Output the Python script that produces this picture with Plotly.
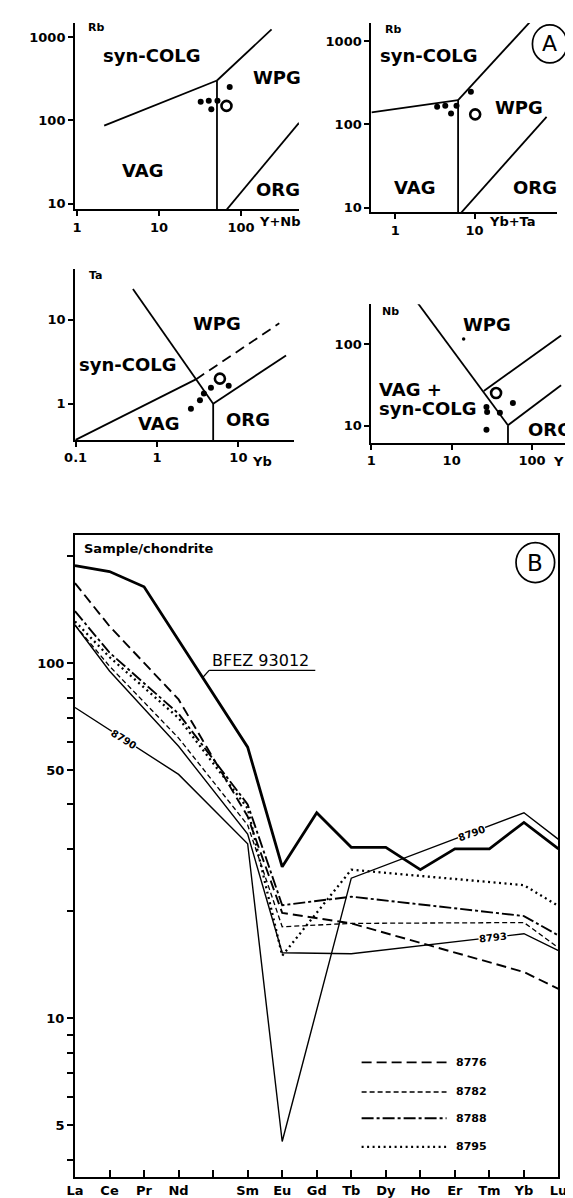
import plotly.graph_objects as go

W, H = 573, 1198
FONT = "DejaVu Sans"

# ---------------- Panel A data ----------------
# A1: Rb vs Y+Nb
a1_dots_x = [32.3, 40.5, 43.5, 51.7, 72.9]
a1_dots_y = [167, 171, 135, 171, 251]
a1_open_x = [66.6]
a1_open_y = [148.6]
a1_colg_vag_x = [2.15, 51]
a1_colg_vag_y = [86, 300]
a1_colg_wpg_x = [51, 236]
a1_colg_wpg_y = [300, 1230]
a1_vag_wpg_x = [51, 51]
a1_vag_wpg_y = [300, 1]
a1_wpg_org_x = [64, 510]
a1_wpg_org_y = [8.0, 93]

# A2: Rb vs Yb+Ta
a2_dots_x = [3.37, 4.27, 5.05, 5.92, 9.0]
a2_dots_y = [163, 167, 135.6, 167, 247]
a2_open_x = [10.2]
a2_open_y = [132]
a2_colg_vag_x = [0.5, 6.2]
a2_colg_vag_y = [139, 196]
a2_colg_wpg_x = [6.2, 53.5]
a2_colg_wpg_y = [196, 1820]
a2_vag_wpg_x = [6.2, 6.2]
a2_vag_wpg_y = [196, 1]
a2_wpg_org_x = [6.3, 81.5]
a2_wpg_org_y = [8.0, 123]

# A3: Ta vs Yb
a3_dots_x = [2.61, 3.37, 3.77, 4.6, 7.6]
a3_dots_y = [0.87, 1.10, 1.32, 1.55, 1.64]
a3_open_x = [5.93]
a3_open_y = [1.99]
a3_colg_vag_x = [0.1, 3.0]
a3_colg_vag_y = [0.37, 1.95]
a3_dashed_x = [3.0, 31.8]
a3_dashed_y = [1.95, 9.1]
a3_wpg_vag_x = [0.506, 4.9]
a3_wpg_vag_y = [23.4, 1.0]
a3_vag_org_x = [4.9, 4.9]
a3_vag_org_y = [1.0, 0.1]
a3_wpg_org_x = [4.9, 38.5]
a3_wpg_org_y = [1.0, 3.77]

# A4: Nb vs Y
a4_dots_x = [27.1, 27.6, 39.8, 57.8, 27.1]
a4_dots_y = [17.0, 14.7, 14.4, 19.0, 8.9]
a4_small_x = [14.1]
a4_small_y = [117]
a4_open_x = [35.7]
a4_open_y = [25.2]
a4_diag_x = [3.8, 50.2]
a4_diag_y = [322, 10.1]
a4_wpg_org_x = [25.1, 229.7]
a4_wpg_org_y = [26.7, 129]
a4_vag_org_x = [50.2, 229.7]
a4_vag_org_y = [10.1, 31.4]
a4_vert_x = [50.2, 50.2]
a4_vert_y = [10.1, 1]

# ---------------- Panel B data: REE / chondrite ----------------
ree_labels = ["La", "Ce", "Pr", "Nd", "", "Sm", "Eu", "Gd", "Tb", "Dy", "Ho", "Er", "Tm", "Yb", "Lu"]
ree_pos = list(range(len(ree_labels)))
bfez_93012 = [188, 181, 164, None, None, 58, 26.7, 37.9, 30.3, 30.3, 26.2, 30, 30, 35.6, 30]
s8776 = [168, 127, None, 79, None, 37, 19.8, None, 18.5, None, None, None, None, 13.5, 12.1]
s8782 = [128, 98, None, 61.5, None, 35, 18.1, None, 18.5, None, None, None, None, 18.6, 15.8]
s8788 = [140, 107, None, 72, None, 40, 20.8, None, 22.0, None, None, None, None, 19.4, 17.1]
s8795 = [131, 104, None, 70, None, 39, 15.0, None, 26.2, None, None, None, None, 23.7, 20.7]
s8790 = [75, None, None, 48.6, None, 31, 4.5, None, 24.8, None, None, None, None, 37.9, 31.9]
s8793 = [128, 95, None, 58.3, None, 33, 15.3, None, 15.2, None, None, None, None, 17.3, 15.5]
b_ticks = [4, 5, 6, 7, 8, 9, 10, 20, 30, 40, 50, 60, 70, 80, 90, 100, 200]
b_ticktext = ["", "5", "", "", "", "", "10", "", "", "", "50", "", "", "", "", "100", ""]


def px(x):
    return x / W


def py(y):
    return 1 - y / H


fig = go.Figure()
BLK = "black"


def add_line(xs, ys, ax, width=1.8, dash=None):
    fig.add_trace(go.Scatter(x=xs, y=ys, mode="lines", xaxis="x" + ax, yaxis="y" + ax,
                             line=dict(color=BLK, width=width, dash=dash),
                             hoverinfo="skip", showlegend=False, connectgaps=True))


def add_pts(xs, ys, ax, size=6):
    fig.add_trace(go.Scatter(x=xs, y=ys, mode="markers", xaxis="x" + ax, yaxis="y" + ax,
                             marker=dict(color=BLK, size=size, opacity=1,
                                         line=dict(color=BLK, width=0)),
                             hoverinfo="skip", showlegend=False))


def add_open(xs, ys, ax):
    fig.add_trace(go.Scatter(x=xs, y=ys, mode="markers", xaxis="x" + ax, yaxis="y" + ax,
                             marker=dict(color=BLK, size=10, symbol="circle-open", opacity=1,
                                         line=dict(color=BLK, width=2.6)),
                             hoverinfo="skip", showlegend=False))


# A1
for xs, ys in [(a1_colg_vag_x, a1_colg_vag_y), (a1_colg_wpg_x, a1_colg_wpg_y),
               (a1_vag_wpg_x, a1_vag_wpg_y), (a1_wpg_org_x, a1_wpg_org_y)]:
    add_line(xs, ys, "")
add_pts(a1_dots_x, a1_dots_y, "")
add_open(a1_open_x, a1_open_y, "")

# A2
for xs, ys in [(a2_colg_vag_x, a2_colg_vag_y), (a2_colg_wpg_x, a2_colg_wpg_y),
               (a2_vag_wpg_x, a2_vag_wpg_y), (a2_wpg_org_x, a2_wpg_org_y)]:
    add_line(xs, ys, "2")
add_pts(a2_dots_x, a2_dots_y, "2")
add_open(a2_open_x, a2_open_y, "2")

# A3
for xs, ys in [(a3_colg_vag_x, a3_colg_vag_y), (a3_wpg_vag_x, a3_wpg_vag_y),
               (a3_vag_org_x, a3_vag_org_y), (a3_wpg_org_x, a3_wpg_org_y)]:
    add_line(xs, ys, "3")
add_line(a3_dashed_x, a3_dashed_y, "3", dash="10px,6px")
add_pts(a3_dots_x, a3_dots_y, "3")
add_open(a3_open_x, a3_open_y, "3")

# A4
for xs, ys in [(a4_diag_x, a4_diag_y), (a4_wpg_org_x, a4_wpg_org_y),
               (a4_vag_org_x, a4_vag_org_y), (a4_vert_x, a4_vert_y)]:
    add_line(xs, ys, "4")
add_pts(a4_dots_x, a4_dots_y, "4")
add_pts(a4_small_x, a4_small_y, "4", size=3.5)
add_open(a4_open_x, a4_open_y, "4")

# B
add_line(ree_pos, bfez_93012, "5", width=2.8)
add_line(ree_pos, s8776, "5", width=1.9, dash="10px,5px")
add_line(ree_pos, s8782, "5", width=1.3, dash="5px,3px")
add_line(ree_pos, s8788, "5", width=1.9, dash="12px,3px,3px,3px")
add_line(ree_pos, s8795, "5", width=2.3, dash="2px,3.5px")
add_line(ree_pos, s8790, "5", width=1.4)
add_line(ree_pos, s8793, "5", width=1.4)

tfont = dict(family=FONT, size=13, color=BLK, weight="bold")


def log_axis(domain, rng, tickvals, ticktext, anchor):
    return dict(type="log", domain=domain, range=rng, anchor=anchor,
                showline=True, linecolor=BLK, linewidth=1.8, mirror=False,
                showgrid=False, zeroline=False, ticks="outside", ticklen=5,
                tickwidth=1.6, tickcolor=BLK, tickvals=tickvals, ticktext=ticktext,
                tickfont=tfont, fixedrange=True, ticklabeloverflow="allow")


layout = dict(
    width=W, height=H, margin=dict(l=0, r=0, t=0, b=0),
    paper_bgcolor="white", plot_bgcolor="rgba(0,0,0,0)", showlegend=False,
    xaxis=log_axis([px(58), px(290)], [-0.0235, 2.706], [1, 10, 100], ["1", "10", "100"], "y"),
    yaxis=log_axis([py(202), py(15)], [0.928, 3.168], [10, 100, 1000], ["10", "100", "1000"], "x"),
    xaxis2=log_axis([px(365), px(557)], [-0.305, 2.037], [1, 10], ["1", "10"], "y2"),
    yaxis2=log_axis([py(205), py(15)], [0.94, 3.22], [10, 100, 1000], ["10", "100", "1000"], "x2"),
    xaxis3=log_axis([px(58), px(285)], [-1.008, 1.684], [0.1, 1, 10], ["0.1", "1", "10"], "y3"),
    yaxis3=log_axis([py(433), py(261.7)], [-0.432, 1.607], [1, 10], ["1", "10"], "x3"),
    xaxis4=log_axis([px(365), px(569)], [0, 2.449], [1, 10, 100], ["1", "10", "100"], "y4"),
    yaxis4=log_axis([py(436), py(297)], [0.787, 2.495], [10, 100], ["10", "100"], "x4"),
    xaxis5=dict(type="linear", domain=[px(58), px(559)], range=[0, 14], anchor="y5",
                showline=True, linecolor=BLK, linewidth=1.9, mirror=True,
                showgrid=False, zeroline=False, ticks="inside", ticklen=7, tickwidth=1.6,
                tickcolor=BLK, tickvals=ree_pos, ticktext=ree_labels, tickfont=tfont,
                fixedrange=True, ticklabeloverflow="allow"),
    yaxis5=dict(type="log", domain=[py(1172), py(528)], range=[0.553, 2.3615], anchor="x5",
                showline=True, linecolor=BLK, linewidth=1.9, mirror=True,
                showgrid=False, zeroline=False, ticks="outside", ticklen=6, tickwidth=1.6,
                tickcolor=BLK, tickvals=b_ticks, ticktext=b_ticktext, tickfont=tfont,
                fixedrange=True, ticklabeloverflow="allow"),
)
fig.update_layout(**layout)

ann = []


def txt(x, y, s, size=18, xanchor="center", angle=0, bg=None, bold=True):
    f = dict(family=FONT, size=size, color=BLK)
    if bold:
        f["weight"] = "bold"
    d = dict(x=px(x), y=py(y), xref="paper", yref="paper", text=s, showarrow=False,
             xanchor=xanchor, yanchor="middle", textangle=angle, font=f, borderpad=0)
    if bg:
        d["bgcolor"] = bg
    ann.append(d)


# A1 labels
txt(80, 20, "Rb", 11)
txt(138, 48, "syn-COLG")
txt(267, 70, "WPG")
txt(128, 163, "VAG")
txt(268, 182, "ORG")
txt(248, 214, "Y+Nb", 13, "left")
# A2 labels
txt(388, 22, "Rb", 11)
txt(425, 48, "syn-COLG")
txt(518, 100, "WPG")
txt(410, 180, "VAG")
txt(535, 180, "ORG")
txt(486, 214, "Yb+Ta", 13, "left")
txt(550, 36, "A", 22, bold=False)
# A3 labels
txt(80, 268, "Ta", 11)
txt(205, 316, "WPG")
txt(113, 357, "syn-COLG")
txt(145, 417, "VAG")
txt(237, 413, "ORG")
txt(240, 455, "Yb", 13, "left")
# A4 labels
txt(385, 304, "Nb", 11)
txt(485, 317, "WPG")
txt(372, 382, "VAG +", 18, "left")
txt(372, 402, "syn-COLG", 18, "left")
txt(550, 423, "ORG")
txt(552, 455, "Y", 13, "left")
# B labels
txt(66, 542, "Sample/chondrite", 13, "left")
txt(535, 556, "B", 23, bold=False)
txt(199, 654, "BFEZ 93012", 16, "left", bold=False)
txt(109, 733, "8790", 10, angle=32, bg="white")
txt(469, 828, "8790", 10, angle=-20, bg="white")
txt(491, 932, "8793", 10, angle=-6, bg="white")

leg_names = ["8776", "8782", "8788", "8795"]
leg_y = [1057, 1086.7, 1113, 1141.7]
leg_dash = ["10px,5px", "5px,3px", "12px,3px,3px,3px", "2px,3.5px"]
leg_w = [1.9, 1.3, 1.9, 2.3]
shapes = []
for name, yy, dsh, lw in zip(leg_names, leg_y, leg_dash, leg_w):
    shapes.append(dict(type="line", xref="paper", yref="paper", x0=px(355), x1=px(443),
                       y0=py(yy), y1=py(yy), line=dict(color=BLK, width=lw, dash=dsh)))
    txt(452, yy, name, 11, "left")

# circles A and B
shapes.append(dict(type="circle", xref="paper", yref="paper", x0=px(532), x1=px(568),
                   y0=py(55), y1=py(17), line=dict(color=BLK, width=1.7)))
shapes.append(dict(type="circle", xref="paper", yref="paper", x0=px(515), x1=px(555),
                   y0=py(576), y1=py(536), line=dict(color=BLK, width=1.7)))
# BFEZ underline + leader
shapes.append(dict(type="line", xref="paper", yref="paper", x0=px(197), x1=px(307),
                   y0=py(664), y1=py(664), line=dict(color=BLK, width=1.3)))
shapes.append(dict(type="line", xref="paper", yref="paper", x0=px(197), x1=px(190.5),
                   y0=py(664), y1=py(671), line=dict(color=BLK, width=1.3)))

fig.update_layout(annotations=ann, shapes=shapes)
fig.write_html("out.html")
